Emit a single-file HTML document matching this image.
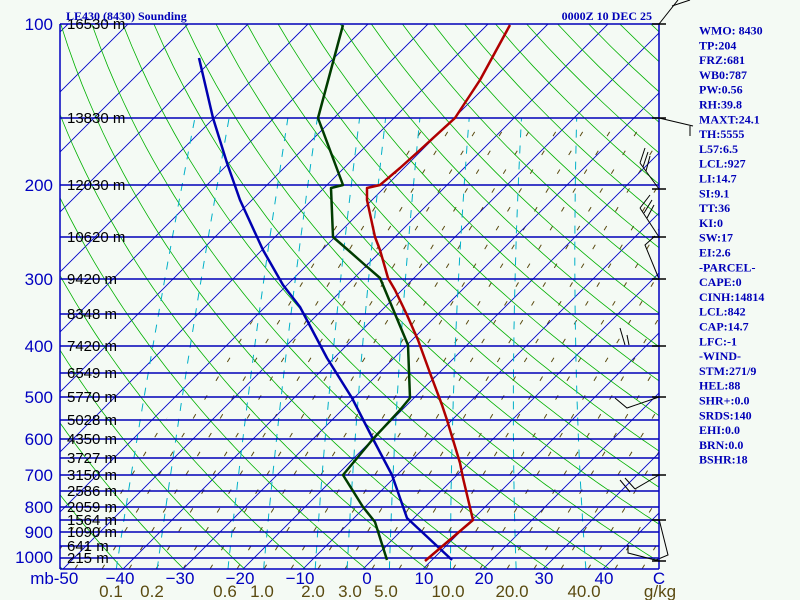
<!DOCTYPE html>
<html><head><meta charset="utf-8"><style>
html,body{margin:0;padding:0;background:#f4faf4;}
svg{display:block}
.t{font-family:"Liberation Serif",serif;font-weight:bold;font-size:12px;fill:#0000b8}
.h{font-family:"Liberation Sans",sans-serif;font-size:15px;fill:#000}
.p{font-family:"Liberation Sans",sans-serif;font-size:17px;fill:#0000c0}
.m{font-family:"Liberation Sans",sans-serif;font-size:17px;fill:#5a4a10}
</style></head><body>
<svg id="s" width="800" height="600" xmlns="http://www.w3.org/2000/svg">
<rect width="800" height="600" fill="#f4faf4"/>
<defs>
<clipPath id="c"><rect x="60" y="24" width="599" height="545"/></clipPath>
<clipPath id="o"><polygon points="430,118 659,118 659,569 60,569 60,540"/></clipPath>
</defs>
<g id="grid" clip-path="url(#c)"></g>
<g id="hl"></g>
<g clip-path="url(#c)" fill="none" stroke-linejoin="round" stroke-width="2.5">
<polyline stroke="#0000b0" points="199,58 213,118 227,163 240,200 263,250 283,285 300,307 327,358 352,398 373,439 392,475 400,498 407,518 452,560"/>
<polyline stroke="#003c00" points="343,25 318,118 343,185 331,188 333,237 348,250 365,265 380,278 408,345 410,398 400,410 373,439 343,475 363,507 375,522 387,560"/>
<polyline stroke="#b00000" points="510,25 480,80 455,118 420,150 400,168 380,185 367,188 367,200 375,237 380,250 388,278 395,290 407,315 418,340 430,373 442,405 447,420 460,463 463,478 473,520 425,561"/>
</g>
<g stroke="#000" stroke-width="1" fill="none">
<polyline points="659,24 678,0"/><polyline points="672,6 690,0"/>
<polyline points="659,118 693,126"/><line x1="690" y1="126" x2="690" y2="136"/>
<polyline points="659,189 640,163"/><line x1="640" y1="163" x2="645" y2="148"/><line x1="643" y1="167" x2="648" y2="152"/><line x1="646" y1="171" x2="650" y2="156"/>
<polyline points="659,237 640,208"/><line x1="640" y1="208" x2="650" y2="195"/><line x1="644" y1="213" x2="652" y2="200"/><line x1="647" y1="218" x2="654" y2="205"/>
<polyline points="659,279 645,245 655,236"/>
<line x1="620" y1="328" x2="625" y2="345"/><line x1="627" y1="335" x2="629" y2="345"/>
<polyline points="659,397 627,408 615,398"/>
<polyline points="659,475 635,489"/><line x1="620" y1="480" x2="630" y2="492"/><line x1="625" y1="478" x2="635" y2="489"/>
<polyline points="659,519 668,555 656,560"/>
<polyline points="659,561 628,553 628,545"/>
</g>
<g stroke="#0000c0" fill="none">
<line x1="60" y1="24" x2="60" y2="569" stroke-width="1.5"/>
<line x1="659" y1="24" x2="659" y2="569" stroke-width="1.5"/>
<line x1="60" y1="569" x2="659" y2="569" stroke-width="1.5"/>
</g>
<g stroke="#000" stroke-width="1.5"><line x1="652" y1="24" x2="666" y2="24"/><line x1="652" y1="118" x2="666" y2="118"/><line x1="652" y1="189" x2="666" y2="189"/><line x1="652" y1="237" x2="666" y2="237"/><line x1="652" y1="279" x2="666" y2="279"/><line x1="652" y1="346" x2="666" y2="346"/><line x1="652" y1="397" x2="666" y2="397"/><line x1="652" y1="475" x2="666" y2="475"/><line x1="652" y1="520" x2="666" y2="520"/><line x1="652" y1="561" x2="666" y2="561"/></g>
<g class="h">
<text x="67" y="29">16530 m</text><text x="67" y="123">13830 m</text><text x="67" y="190">12030 m</text><text x="67" y="242">10620 m</text><text x="67" y="284">9420 m</text><text x="67" y="319">8348 m</text><text x="67" y="351">7420 m</text><text x="67" y="378">6549 m</text><text x="67" y="402">5770 m</text><text x="67" y="425">5028 m</text><text x="67" y="444">4350 m</text><text x="67" y="463">3727 m</text><text x="67" y="480">3150 m</text><text x="67" y="496">2586 m</text><text x="67" y="512">2059 m</text><text x="67" y="525">1564 m</text><text x="67" y="537">1090 m</text><text x="67" y="551">641 m</text><text x="67" y="563">215 m</text>
</g>
<g class="p" text-anchor="end">
<text x="53" y="30">100</text><text x="53" y="191">200</text><text x="53" y="285">300</text><text x="53" y="352">400</text><text x="53" y="403">500</text><text x="53" y="445">600</text><text x="53" y="481">700</text><text x="53" y="513">800</text><text x="53" y="538">900</text><text x="53" y="563">1000</text>
</g>
<g class="p" text-anchor="middle">
<text x="42" y="584">mb</text><text x="66" y="584">-50</text><text x="120" y="584">−40</text><text x="180" y="584">−30</text><text x="240" y="584">−20</text><text x="300" y="584">−10</text><text x="367" y="584">0</text><text x="424" y="584">10</text><text x="484" y="584">20</text><text x="544" y="584">30</text><text x="604" y="584">40</text><text x="659" y="584">C</text>
</g>
<g class="m" text-anchor="middle">
<text x="111" y="597">0.1</text><text x="152" y="597">0.2</text><text x="225" y="597">0.6</text><text x="262" y="597">1.0</text><text x="313" y="597">2.0</text><text x="350" y="597">3.0</text><text x="386" y="597">5.0</text><text x="448" y="597">10.0</text><text x="512" y="597">20.0</text><text x="584" y="597">40.0</text><text x="660" y="597">g/kg</text>
</g>
<text class="t" x="66" y="20">LE430 (8430) Sounding</text>
<text class="t" x="652" y="20" text-anchor="end">0000Z 10 DEC 25</text>
<g class="t" id="side"></g>
</svg>
<script>
function Y(p){return 24+231.9*Math.log(p/100);}
function X(T,p,sk){return 363+6*T+sk*(569-Y(p));}
var g=document.getElementById("grid"),s="";
function pl(pts,st){s+='<polyline fill="none" points="'+pts.map(function(a){return a[0].toFixed(1)+","+a[1].toFixed(1)}).join(" ")+'" '+st+'/>';}
var ol="";
for(var k=-600;k<800;k+=27){ol+='<line x1="'+k+'" y1="569" x2="'+(k+330)+'" y2="24"/>';}
s+='<g clip-path="url(#o)" stroke="#5a4a10" stroke-width="1" stroke-dasharray="5 17">'+ol+'</g>';
for(var T=-160;T<=50;T+=10){pl([[X(T,1050,1),Y(1050)],[X(T,100,1),Y(100)]],'stroke="#0000c8" stroke-width="0.9"');}
for(var th=180;th<=520;th+=10){var a=[];for(var p=1050;p>=100;p-=10){a.push([X(th*Math.pow(p/1000,0.286)-273.15,p,0.8),Y(p)]);}pl(a,'stroke="#00b000" stroke-width="0.8"');}
[0.1,0.2,0.6,1,2,3,5,10,20,40].forEach(function(w){var a=[];for(var p=1050;p>=150;p-=10){var e=w*p/(622+w),l=Math.log(e/6.112),Td=243.5*l/(17.67-l);a.push([X(Td,p,0.4),Y(p)]);}pl(a,'stroke="#00b0c8" stroke-width="1" stroke-dasharray="8 8"');});
g.innerHTML=s;
var hs=[24,118,185,237,279,314,346,373,397,420,439,458,475,491,507,520,532,546,558],h="";
hs.forEach(function(y){h+='<line x1="60" x2="659" y1="'+y+'" y2="'+y+'" stroke="#0000b8" stroke-width="1.6"/>';});
document.getElementById("hl").innerHTML=h;
var L=["WMO: 8430","TP:204","FRZ:681","WB0:787","PW:0.56","RH:39.8","MAXT:24.1","TH:5555","L57:6.5","LCL:927","LI:14.7","SI:9.1","TT:36","KI:0","SW:17","EI:2.6","-PARCEL-","CAPE:0","CINH:14814","LCL:842","CAP:14.7","LFC:-1","-WIND-","STM:271/9","HEL:88","SHR+:0.0","SRDS:140","EHI:0.0","BRN:0.0","BSHR:18"],t="";
L.forEach(function(v,i){t+='<text x="699" y="'+(34.5+i*14.8).toFixed(1)+'">'+v+'</text>';});
document.getElementById("side").innerHTML=t;
</script>
</body></html>
